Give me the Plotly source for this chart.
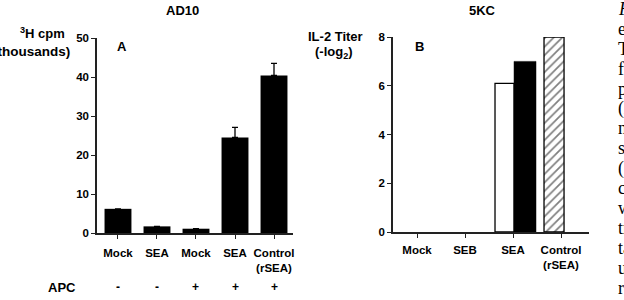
import plotly.graph_objects as go

W, H = 624, 300

# ---------- data ----------
# Panel A (AD10)
a_labels = ["Mock", "SEA", "Mock", "SEA", "Control<br>(rSEA)"]
a_values = [6.2, 1.7, 1.1, 24.5, 40.4]
a_err = [0, 0, 0, 2.6, 3.1]
apc = ["-", "-", "+", "+", "+"]
a_yticks = [0, 10, 20, 30, 40, 50]

# Panel B (5KC)
b_labels = ["Mock", "SEB", "SEA", "Control<br>(rSEA)"]
b_white = [0, 0, 6.1, None]
b_black = [0, 0, 7.0, None]
b_control = [None, None, None, 8.0]
b_yticks = [0, 2, 4, 6, 8]

# clipped caption column at the right edge
caption = ["F", "e", "T", "fo", "p", "(A", "n", "sp", "(", "c", "w", "tr", "ta", "u", "re"]

FONT = "Liberation Sans"


def px(x):
    return x / W


def py(y):
    return 1 - y / H


fig = go.Figure()

a_x = list(range(len(a_labels)))
fig.add_trace(go.Bar(
    x=a_x, y=a_values, width=0.69,
    marker=dict(color="black", line=dict(width=0)),
    error_y=dict(type="data", array=a_err, arrayminus=[0] * len(a_err), symmetric=False,
                 color="black", thickness=1.3, width=3),
    xaxis="x", yaxis="y", showlegend=False,
))

b_x = list(range(len(b_labels)))
# outline only where a bar has height
white_lw = [1.3 if v else 0 for v in b_white]
black_lw = [0.5 if v else 0 for v in b_black]
fig.add_trace(go.Bar(
    x=b_x, y=b_white, offset=-0.375, width=0.396,
    marker=dict(color="white", line=dict(color="black", width=white_lw)),
    xaxis="x2", yaxis="y2", showlegend=False,
))
fig.add_trace(go.Bar(
    x=b_x, y=b_black, offset=0.021, width=0.458,
    marker=dict(color="black", line=dict(color="black", width=black_lw)),
    xaxis="x2", yaxis="y2", showlegend=False,
))
fig.add_trace(go.Bar(
    x=b_x, y=b_control, offset=-0.354, width=0.417,
    marker=dict(color="white", line=dict(color="black", width=1.3),
                pattern=dict(shape="/", fgcolor="black", bgcolor="white", size=6, solidity=0.28)),
    xaxis="x2", yaxis="y2", showlegend=False,
))

axis_common = dict(showline=True, linecolor="#222", linewidth=1.5, showgrid=False, zeroline=False,
                   ticks="outside", ticklen=4, tickwidth=1.3, tickcolor="#222", automargin=False,
                   tickfont=dict(family=FONT, size=11.5, color="black", weight="bold"), fixedrange=True)

fig.update_layout(
    width=W, height=H,
    margin=dict(l=0, r=0, t=0, b=0),
    paper_bgcolor="white", plot_bgcolor="white",
    barmode="overlay",
    xaxis=dict(domain=[px(97), px(293)], range=[-0.538, 4.487], tickvals=a_x, ticktext=a_labels,
               anchor="y", ticklabelstandoff=4, **axis_common),
    yaxis=dict(domain=[py(233), py(38)], range=[0, 50], tickvals=a_yticks, anchor="x", **axis_common),
    xaxis2=dict(domain=[px(393), px(589)], range=[-0.5, 3.583], tickvals=b_x, ticktext=b_labels,
                anchor="y2", ticklabelstandoff=2, **axis_common),
    yaxis2=dict(domain=[py(232), py(37)], range=[0, 8], tickvals=b_yticks, anchor="x2", **axis_common),
)

ann = []


def text(x, y, s, size=13, xanchor="center", bold=True, family=FONT, italic=False, xref="paper"):
    ann.append(dict(x=x, y=y, xref=xref, yref="paper", text=s, showarrow=False,
                    xanchor=xanchor, yanchor="middle",
                    font=dict(family=family, size=size, color="black",
                              weight="bold" if bold else "normal",
                              style="italic" if italic else "normal")))


text(px(182), py(11), "AD10")
text(px(482), py(11), "5KC")
text(px(115), py(46), "A", xanchor="left")
text(px(413), py(46), "B", xanchor="left")
text(px(67), py(33), "<sup>3</sup>H cpm", xanchor="right")
text(px(72), py(51), "(thousands)", size=13.5, xanchor="right")
text(px(335), py(36), "IL-2 Titer")
text(px(334), py(53), "(-log<sub>2</sub>)")
text(px(62), py(287), "APC")
for i, s in enumerate(apc):
    ann.append(dict(x=a_x[i], y=py(287), xref="x", yref="paper", text=s, showarrow=False,
                    xanchor="center", yanchor="middle",
                    font=dict(family=FONT, size=12, color="black", weight="bold")))

for i, s in enumerate(caption):
    text(px(616), py(9 + i * 19.9), s, size=18, xanchor="left", bold=False,
         family="Liberation Serif", italic=(i == 0))

fig.update_layout(annotations=ann)

fig.write_html("out.html")
